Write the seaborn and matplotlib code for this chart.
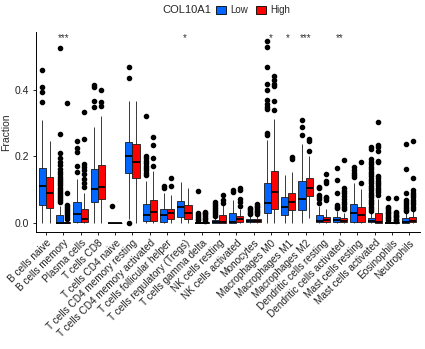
import numpy as np
import pandas as pd
import matplotlib
matplotlib.use("Agg")
import matplotlib.pyplot as plt
from matplotlib.patches import Patch
import seaborn as sns

categories = ["B cells naive", "B cells memory", "Plasma cells", "T cells CD8",
              "T cells CD4 naive", "T cells CD4 memory resting",
              "T cells CD4 memory activated", "T cells follicular helper",
              "T cells regulatory (Tregs)", "T cells gamma delta", "NK cells resting",
              "NK cells activated", "Monocytes", "Macrophages M0", "Macrophages M1",
              "Macrophages M2", "Dendritic cells resting", "Dendritic cells activated",
              "Mast cells resting", "Mast cells activated", "Eosinophils", "Neutrophils"]
groups = ["Low", "High"]
signif = ["", "***", "", "", "", "", "", "", "*", "", "", "", "", "*", "*", "***",
          "", "**", "", "", "", ""]

# box statistics (Low group)
low_q1 = [0.053, 0.0, 0.003, 0.062, 0.0, 0.150, 0.006, 0.003, 0.016, 0.0, 0.0, 0.0,
          0.001, 0.028, 0.023, 0.038, 0.001, 0.002, 0.003, 0.001, 0.0, 0.0]
low_med = [0.110, 0.0, 0.025, 0.100, 0.0, 0.200, 0.023, 0.023, 0.046, 0.0, 0.003, 0.003,
           0.006, 0.060, 0.048, 0.070, 0.006, 0.008, 0.030, 0.006, 0.0, 0.003]
low_q3 = [0.163, 0.022, 0.062, 0.160, 0.0, 0.243, 0.056, 0.040, 0.066, 0.002, 0.008, 0.030,
          0.010, 0.120, 0.078, 0.125, 0.023, 0.016, 0.055, 0.013, 0.001, 0.013]
low_wlo = [0.0, 0.0, 0.0, 0.0, 0.0, 0.012, 0.0, 0.0, 0.0, 0.0, 0.0, 0.0,
           0.0, 0.0, 0.0, 0.0, 0.0, 0.0, 0.0, 0.0, 0.0, 0.0]
low_whi = [0.308, 0.050, 0.130, 0.288, 0.0, 0.365, 0.125, 0.090, 0.123, 0.004, 0.018, 0.068,
           0.022, 0.248, 0.143, 0.235, 0.050, 0.035, 0.120, 0.030, 0.001, 0.030]
low_out = [
    [0.46, 0.408, 0.392, 0.362],
    [0.525, 0.267, 0.208, 0.195, 0.183, 0.172, 0.16, 0.152, 0.145, 0.138, 0.131, 0.125,
     0.118, 0.112, 0.105, 0.098, 0.092, 0.086, 0.08, 0.074, 0.068, 0.062],
    [0.245, 0.223, 0.211, 0.17, 0.153],
    [0.415, 0.409, 0.366, 0.348],
    [0.05],
    [0.468, 0.435, 0.0],
    [0.32, 0.2, 0.193, 0.186, 0.178, 0.171, 0.164, 0.157, 0.15, 0.143],
    [0.11, 0.105],
    [],
    [0.095, 0.028, 0.022, 0.017, 0.012, 0.008],
    [0.063, 0.057, 0.051, 0.045, 0.039, 0.033, 0.027, 0.021],
    [0.098, 0.093],
    [0.045, 0.04, 0.035, 0.03, 0.026],
    [0.545, 0.528, 0.467, 0.418, 0.4, 0.368, 0.358, 0.348, 0.342, 0.27, 0.264],
    [],
    [0.308, 0.288, 0.263],
    [0.108, 0.103, 0.083, 0.076, 0.07, 0.06],
    [0.163, 0.127, 0.088, 0.053, 0.048, 0.043],
    [0.166, 0.158, 0.15, 0.143, 0.136],
    [0.226, 0.222, 0.19, 0.183, 0.176, 0.168, 0.16, 0.153, 0.146, 0.139, 0.132, 0.125,
     0.118, 0.111, 0.104, 0.097, 0.09, 0.083, 0.076, 0.069, 0.062, 0.055, 0.048, 0.041, 0.034],
    [0.073, 0.048, 0.043, 0.038, 0.033, 0.028, 0.023, 0.018, 0.013, 0.008],
    [0.236, 0.16, 0.088, 0.068, 0.062, 0.056, 0.05, 0.044, 0.038, 0.034],
]

# box statistics (High group)
high_q1 = [0.045, 0.0, 0.001, 0.072, 0.0, 0.133, 0.006, 0.010, 0.010, 0.0, 0.0, 0.003,
           0.001, 0.040, 0.038, 0.080, 0.002, 0.001, 0.003, 0.0, 0.0, 0.001]
high_med = [0.088, 0.0, 0.010, 0.106, 0.0, 0.183, 0.033, 0.028, 0.028, 0.0, 0.003, 0.010,
            0.005, 0.093, 0.063, 0.103, 0.008, 0.004, 0.023, 0.002, 0.0, 0.005]
high_q3 = [0.136, 0.002, 0.042, 0.173, 0.0, 0.235, 0.068, 0.040, 0.053, 0.002, 0.023, 0.020,
           0.010, 0.155, 0.088, 0.133, 0.018, 0.013, 0.046, 0.030, 0.001, 0.016]
high_wlo = [0.0, 0.0, 0.0, 0.0, 0.0, 0.0, 0.0, 0.0, 0.0, 0.0, 0.0, 0.0,
            0.0, 0.0, 0.0, 0.015, 0.0, 0.0, 0.0, 0.0, 0.0, 0.0]
high_whi = [0.246, 0.004, 0.090, 0.320, 0.0, 0.365, 0.155, 0.083, 0.103, 0.004, 0.055, 0.040,
            0.022, 0.313, 0.153, 0.200, 0.040, 0.030, 0.100, 0.070, 0.002, 0.035]
high_out = [
    [],
    [0.36, 0.088, 0.053, 0.047, 0.041, 0.035, 0.029, 0.023, 0.017, 0.012],
    [0.333, 0.25, 0.175, 0.168, 0.158, 0.146, 0.132, 0.118, 0.106],
    [0.398, 0.363, 0.35],
    [],
    [],
    [0.257, 0.232, 0.194, 0.171],
    [0.133, 0.11],
    [],
    [0.033, 0.029, 0.025, 0.02, 0.015, 0.01, 0.006],
    [0.083, 0.068, 0.06],
    [0.105, 0.097, 0.071, 0.062, 0.05],
    [0.056, 0.051, 0.046, 0.041, 0.036, 0.031, 0.026],
    [0.44, 0.43, 0.418, 0.41, 0.365, 0.34],
    [0.198, 0.19],
    [0.251, 0.245, 0.216],
    [0.146, 0.125, 0.118, 0.078, 0.073, 0.068],
    [0.188, 0.103, 0.096, 0.088, 0.08, 0.071, 0.063, 0.055, 0.048, 0.04],
    [0.182, 0.12],
    [0.303, 0.233, 0.228, 0.215, 0.185, 0.182, 0.14, 0.133, 0.126, 0.119, 0.112, 0.105,
     0.098, 0.091, 0.084],
    [0.075, 0.033, 0.028, 0.024, 0.02, 0.016, 0.012, 0.008, 0.005],
    [0.246, 0.135, 0.098, 0.09, 0.083, 0.076, 0.069, 0.062, 0.055, 0.048, 0.042],
]

colors = {"Low": "#0066FF", "High": "#FF0000"}


def sample_from_stats(q1, med, q3, wlo, whi, outs):
    """Sorted sample whose quartiles / whiskers / outliers equal the read statistics."""
    lower = sorted(v for v in outs if v < wlo)
    upper = sorted(v for v in outs if v > whi)
    a, b = len(lower), len(upper)
    m = max(a, b) + 1
    vals = (lower + [wlo] * (m - a) + [q1] * m + [med] * m + [q3]
            + [whi] * (m - b) + upper)
    return vals


rows = []
for g, (Q1, MED, Q3, WLO, WHI, OUT) in zip(
        groups,
        [(low_q1, low_med, low_q3, low_wlo, low_whi, low_out),
         (high_q1, high_med, high_q3, high_wlo, high_whi, high_out)]):
    for i, cat in enumerate(categories):
        for v in sample_from_stats(Q1[i], MED[i], Q3[i], WLO[i], WHI[i], OUT[i]):
            rows.append((cat, g, v))
df = pd.DataFrame(rows, columns=["cell", "COL10A1", "Fraction"])

sns.set_style("ticks")
plt.rcParams["font.family"] = ["Liberation Sans", "DejaVu Sans"]

fig = plt.figure(figsize=(4.25, 3.49), dpi=100)
ax = fig.add_axes([35.6 / 425, 1 - 231.7 / 349, (419.7 - 35.6) / 425, (231.7 - 32.3) / 349])

sns.boxplot(data=df, x="cell", y="Fraction", hue="COL10A1", order=categories,
            hue_order=groups, palette=colors, saturation=1, width=0.83, gap=0,
            linewidth=0.6, linecolor="#1a1a1a", showcaps=False, legend=False,
            whis=1.5, ax=ax,
            medianprops=dict(color="black", linewidth=1.3),
            flierprops=dict(marker="o", markerfacecolor="black",
                            markeredgecolor="black", markersize=3.0))

ax.set_xlim(-0.6, len(categories) - 0.4)
ax.set_ylim(-0.027, 0.572)
ax.set_yticks([0.0, 0.2, 0.4])
ax.set_yticklabels(["0.0", "0.2", "0.4"], fontsize=7.5, color="#222222")
ax.set_xticks(range(len(categories)))
ax.set_xticklabels(categories, rotation=45, ha="right", rotation_mode="anchor",
                   fontsize=7.2, color="#222222")
ax.set_xlabel("")
ax.set_ylabel("Fraction", fontsize=7.5, labelpad=3)
ax.tick_params(axis="both", length=2.5, width=0.6, pad=2, color="black")
for s in ["top", "right"]:
    ax.spines[s].set_visible(False)
for s in ["left", "bottom"]:
    ax.spines[s].set_linewidth(0.7)
    ax.spines[s].set_color("black")

for i, lab in enumerate(signif):
    if lab:
        ax.text(i, 0.556, lab, ha="center", va="center", fontsize=7, color="#333333")

fig.text(187 / 425, 1 - 10 / 349, "COL10A1", ha="center", va="center", fontsize=8)
handles = [Patch(facecolor=colors[g], edgecolor="black", linewidth=0.6) for g in groups]
fig.legend(handles, groups, loc="center left", bbox_to_anchor=(216 / 425, 1 - 10 / 349),
           ncol=2, frameon=False, fontsize=7, handlelength=1.0, handleheight=0.9,
           handletextpad=0.5, columnspacing=0.8, borderpad=0, borderaxespad=0)

fig.savefig("out.png", dpi=100)
